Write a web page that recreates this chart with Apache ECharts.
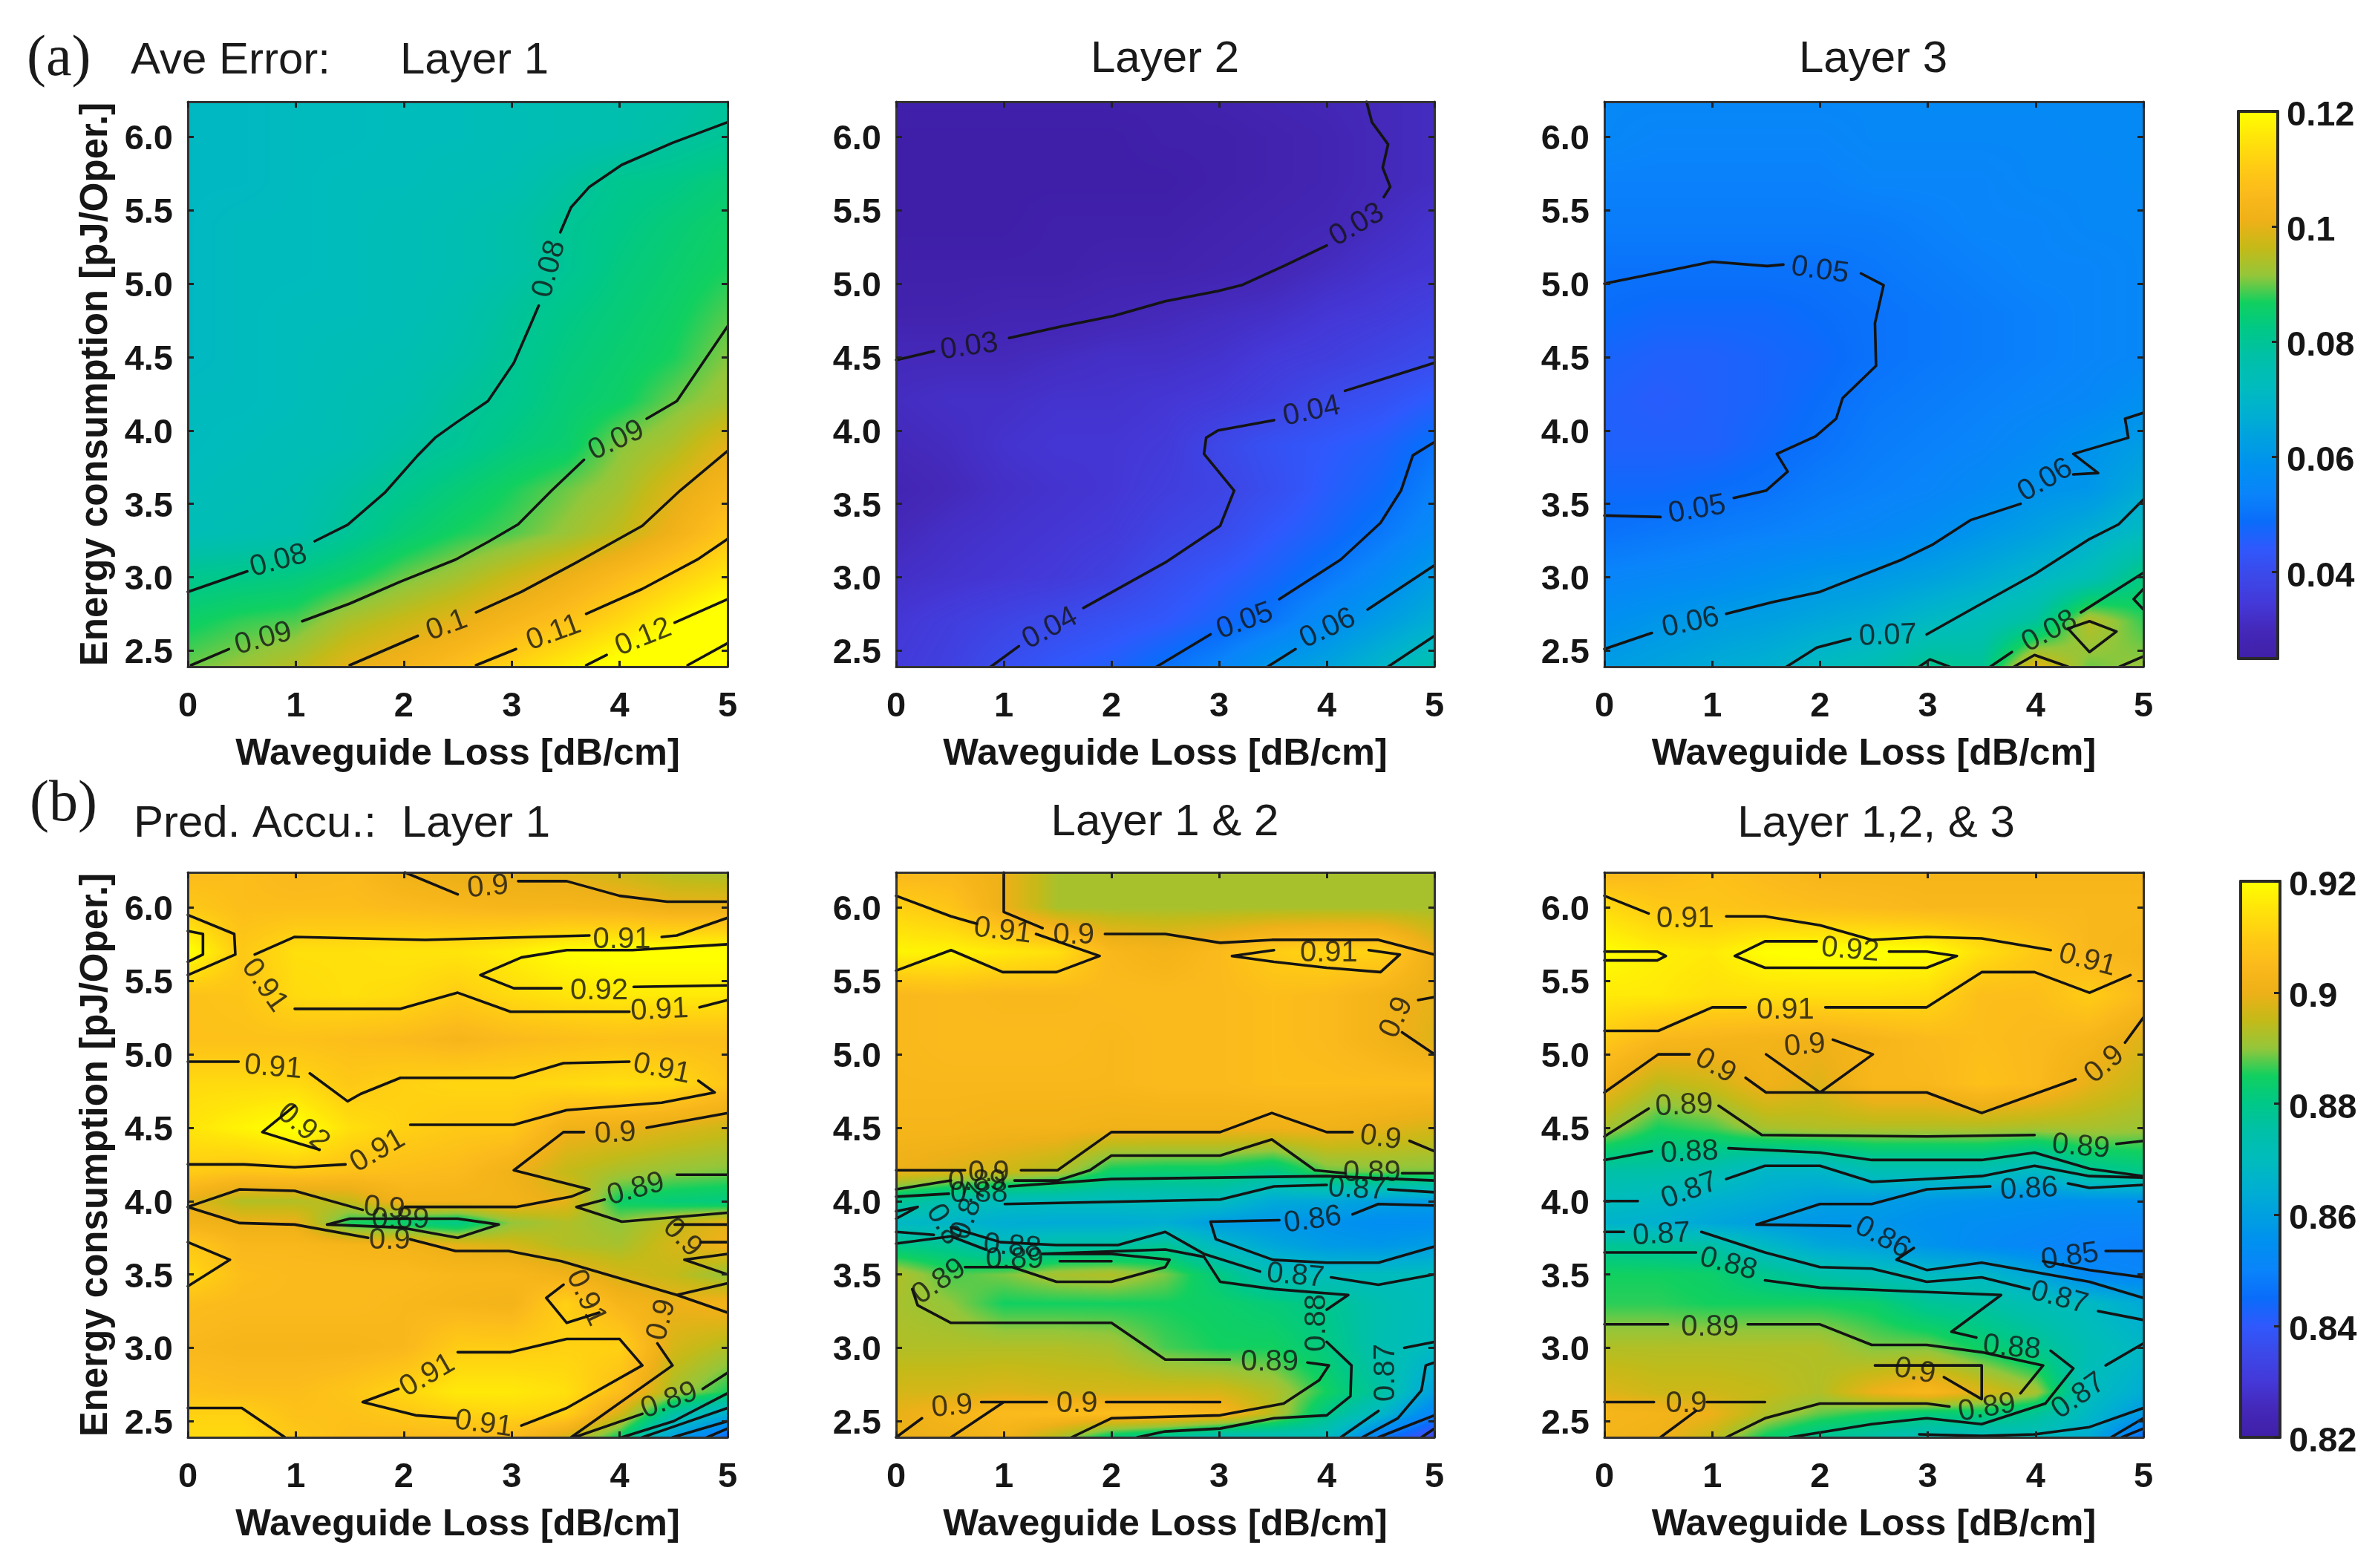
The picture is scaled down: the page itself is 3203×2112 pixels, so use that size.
<!DOCTYPE html>
<html><head><meta charset="utf-8"><style>html,body{margin:0;background:#fff}#c{width:3203px;height:2112px;filter:blur(0.7px)}</style>
<script src="https://cdn.jsdelivr.net/npm/echarts@6/dist/echarts.min.js"></script></head>
<body><div id="c"></div><script>
const xGrid=[0,.5,1,1.5,2,2.5,3,3.5,4,4.5,5];
const yRowsA=[6.24,6,5.7,5.4,5.1,4.8,4.5,4.2,3.9,3.6,3.3,3,2.7,2.39];
const yRowsB=[6.24,6,5.7,5.4,5.1,4.8,4.5,4.2,4,3.85,3.7,3.5,3.3,3,2.7,2.55,2.39];
const xTicks=[0,1,2,3,4,5];
const yTicks=[2.5,3,3.5,4,4.5,5,5.5,6];
const barTicksA=[.04,.06,.08,.1,.12];
const barTicksB=[.82,.84,.86,.88,.9,.92];
const rangeA=[.025,.12];
const rangeB=[.82,.92];
const colormap=['#3f1fa8','#4428b8','#4438d8','#3c48e8','#3058fc','#0a6cfa','#0a84fa','#0090f0','#00a0e0','#00b0d0','#00bcbc','#00c0a8','#00c888','#10d060','#94c63a','#c4ba18','#eeb018','#fbba1c','#ffcc14','#ffe40a','#ffff00'];

const valuesA1=[
[.071,.071,.072,.072,.073,.073,.074,.075,.076,.077,.079],
[.071,.071,.072,.072,.073,.073,.074,.075,.076,.078,.080],
[.071,.071,.072,.073,.073,.074,.075,.078,.081,.082,.084],
[.071,.072,.072,.073,.074,.075,.077,.080,.082,.084,.086],
[.071,.072,.072,.073,.074,.075,.077,.080,.083,.085,.087],
[.071,.072,.073,.073,.074,.076,.079,.082,.084,.086,.089],
[.071,.072,.073,.074,.075,.077,.080,.083,.085,.087,.091],
[.072,.072,.073,.075,.076,.079,.081,.084,.086,.090,.093],
[.072,.073,.074,.075,.078,.080,.083,.085,.091,.094,.100],
[.073,.074,.075,.078,.081,.084,.087,.090,.093,.099,.104],
[.074,.075,.076,.080,.084,.087,.089,.092,.096,.102,.109],
[.081,.082,.083,.086,.090,.093,.097,.101,.106,.111,.116],
[.086,.088,.089,.094,.097,.100,.104,.108,.113,.119,.124],
[.090,.092,.095,.100,.103,.107,.112,.117,.122,.127,.132]];
const valuesA2=[
[.026,.026,.026,.026,.026,.026,.027,.028,.029,.030,.031],
[.025,.025,.025,.025,.025,.026,.026,.027,.028,.030,.031],
[.025,.025,.025,.025,.025,.025,.026,.027,.028,.030,.031],
[.025,.025,.025,.026,.026,.026,.027,.028,.029,.031,.033],
[.026,.026,.026,.026,.027,.027,.028,.029,.031,.033,.034],
[.027,.027,.028,.028,.029,.030,.031,.032,.034,.035,.037],
[.030,.030,.030,.031,.032,.032,.033,.035,.036,.038,.040],
[.031,.032,.032,.033,.033,.034,.035,.037,.040,.042,.045],
[.030,.031,.033,.034,.034,.035,.039,.042,.044,.046,.050],
[.028,.030,.032,.033,.034,.036,.038,.041,.045,.048,.053],
[.030,.032,.033,.034,.035,.038,.040,.044,.047,.051,.056],
[.032,.033,.034,.035,.037,.041,.044,.047,.051,.056,.062],
[.034,.036,.038,.040,.042,.044,.047,.051,.057,.062,.067],
[.035,.037,.041,.044,.046,.050,.054,.061,.064,.070,.076]];
const valuesA3=[
[.055,.055,.055,.055,.055,.055,.056,.056,.056,.056,.056],
[.055,.054,.054,.054,.054,.055,.055,.055,.055,.056,.056],
[.053,.053,.053,.053,.053,.054,.054,.054,.055,.055,.056],
[.052,.052,.052,.052,.052,.052,.053,.054,.054,.055,.055],
[.050,.050,.050,.050,.050,.051,.052,.053,.054,.054,.055],
[.049,.048,.048,.048,.049,.050,.051,.052,.053,.054,.055],
[.047,.046,.046,.047,.048,.050,.051,.052,.053,.054,.055],
[.046,.045,.046,.047,.049,.051,.052,.053,.054,.055,.058],
[.046,.046,.046,.048,.050,.052,.053,.054,.056,.059,.062],
[.048,.048,.049,.050,.052,.053,.054,.056,.059,.060,.066],
[.050,.051,.052,.053,.054,.055,.057,.060,.063,.067,.072],
[.054,.055,.056,.058,.060,.061,.063,.066,.070,.074,.083],
[.058,.060,.062,.063,.065,.067,.071,.074,.079,.095,.088],
[.062,.064,.066,.068,.072,.075,.081,.080,.100,.090,.092]];
const valuesB1=[
[.905,.906,.904,.905,.901,.899,.899,.898,.896,.893,.892],
[.909,.906,.906,.906,.905,.904,.903,.903,.902,.900,.900],
[.921,.909,.914,.914,.915,.915,.917,.920,.921,.921,.921],
[.907,.908,.913,.914,.913,.910,.913,.915,.916,.916,.916],
[.907,.907,.907,.906,.905,.903,.905,.906,.907,.906,.906],
[.913,.913,.913,.909,.911,.912,.912,.913,.914,.913,.908],
[.915,.918,.921,.914,.911,.909,.909,.901,.900,.898,.896],
[.910,.908,.909,.907,.906,.905,.901,.895,.892,.890,.889],
[.899,.893,.893,.895,.902,.902,.902,.899,.884,.882,.881],
[.902,.900,.900,.885,.883,.880,.890,.893,.890,.895,.899],
[.909,.904,.904,.903,.902,.899,.897,.893,.892,.897,.901],
[.913,.906,.905,.905,.905,.904,.904,.901,.897,.895,.890],
[.906,.905,.905,.905,.904,.903,.902,.911,.903,.900,.902],
[.904,.903,.903,.903,.904,.910,.910,.911,.911,.897,.893],
[.907,.906,.906,.908,.912,.916,.916,.914,.906,.892,.885],
[.911,.911,.907,.907,.909,.911,.912,.911,.897,.876,.865],
[.913,.913,.909,.906,.905,.905,.905,.897,.884,.860,.844]];
const valuesB2=[
[.904,.904,.900,.892,.892,.892,.892,.892,.892,.892,.892],
[.911,.908,.900,.892,.892,.892,.892,.892,.892,.892,.892],
[.918,.918,.916,.914,.904,.902,.905,.910,.912,.911,.900],
[.904,.905,.904,.904,.905,.905,.905,.906,.905,.902,.899],
[.904,.905,.905,.905,.904,.905,.905,.906,.905,.902,.898],
[.904,.904,.904,.904,.904,.905,.905,.906,.906,.906,.906],
[.903,.903,.902,.902,.901,.901,.901,.901,.901,.899,.897],
[.900,.898,.896,.893,.884,.883,.883,.880,.888,.889,.889],
[.879,.873,.870,.870,.870,.870,.870,.863,.862,.860,.859],
[.868,.867,.864,.863,.863,.864,.859,.857,.856,.854,.854],
[.880,.878,.871,.875,.875,.878,.868,.862,.858,.857,.859],
[.893,.887,.889,.892,.893,.889,.881,.872,.870,.870,.870],
[.892,.890,.885,.885,.885,.885,.884,.882,.879,.873,.870],
[.893,.893,.893,.893,.892,.887,.885,.885,.881,.873,.869],
[.897,.897,.898,.897,.897,.897,.897,.893,.885,.876,.860],
[.899,.903,.905,.906,.906,.906,.904,.894,.880,.868,.850],
[.900,.900,.902,.893,.882,.877,.871,.871,.870,.848,.834]];
const valuesB3=[
[.904,.905,.907,.905,.903,.903,.903,.903,.903,.903,.903],
[.913,.909,.908,.907,.906,.905,.904,.904,.904,.904,.904],
[.920,.917,.916,.920,.921,.921,.920,.914,.909,.904,.903],
[.916,.916,.914,.914,.914,.914,.913,.906,.906,.910,.905],
[.909,.904,.903,.902,.901,.903,.905,.906,.905,.903,.898],
[.901,.894,.896,.901,.898,.904,.904,.907,.905,.899,.895],
[.892,.885,.887,.892,.893,.893,.893,.893,.892,.892,.891],
[.875,.875,.873,.867,.867,.872,.872,.872,.868,.878,.880],
[.870,.868,.865,.863,.860,.859,.857,.856,.855,.855,.855],
[.866,.865,.862,.859,.857,.857,.855,.854,.853,.851,.851],
[.878,.877,.875,.868,.862,.860,.856,.853,.851,.850,.849],
[.885,.885,.884,.879,.875,.872,.869,.868,.862,.852,.851],
[.886,.886,.885,.885,.885,.884,.878,.876,.872,.869,.863],
[.893,.893,.893,.893,.893,.889,.889,.884,.879,.872,.868],
[.898,.896,.896,.895,.893,.900,.904,.898,.892,.870,.864],
[.903,.902,.900,.893,.888,.885,.882,.883,.878,.868,.858],
[.902,.901,.895,.884,.878,.875,.871,.870,.870,.864,.845]];

// contour polylines: flat x,y lists in data units (waveguide loss, energy)
const contoursA1=[
[0,2.9,.55,3.04],
[1.175,3.245,1.48,3.357,1.83,3.58,2.13,3.83,2.29,3.95,2.48,4.05,2.78,4.2,3.02,4.46,3.18,4.73,3.25,4.85],
[3.45,5.35,3.55,5.52,3.72,5.66,4.02,5.81,4.49,5.96,5,6.1],
[.03,2.4,.38,2.51],
[1.06,2.7,1.5,2.82,1.97,2.97,2.48,3.12,2.78,3.24,3.06,3.36,3.37,3.59,3.67,3.8],
[4.25,4.08,4.53,4.2,4.77,4.46,5,4.71],
[1.5,2.4,2.13,2.6],
[2.67,2.76,3.09,2.9,3.6,3.1,4.21,3.35,4.56,3.59,5,3.86],
[2.67,2.4,3.04,2.51],
[3.69,2.75,4.21,2.92,4.72,3.12,5,3.26],
[3.69,2.4,3.88,2.47],
[4.51,2.69,5,2.85],
[4.63,2.4,5,2.55]];
const labelsA1=[[.84,3.11,'0.08',15],[3.35,5.1,'0.08',75],[.7,2.58,'0.09',15],[3.97,3.93,'0.09',25],[2.4,2.67,'0.1',20],[3.39,2.62,'0.11',20],[4.22,2.59,'0.12',22]];
const contoursA2=[
[0,4.48,.35,4.54],
[1.05,4.63,1.54,4.71,2.02,4.78,2.5,4.88,2.99,4.95,3.21,4.99,3.6,5.12,4,5.26],
[4.53,5.59,4.59,5.66,4.52,5.79,4.57,5.95,4.42,6.1,4.37,6.24],
[.88,2.39,1.14,2.53],
[1.74,2.79,2.5,3.1,3.01,3.35,3.14,3.59,2.86,3.84,2.88,3.95,2.99,4,3.51,4.07],
[4.17,4.27,4.48,4.34,5,4.46],
[2.42,2.39,2.92,2.61],
[3.56,2.85,4.13,3.12,4.5,3.37,4.69,3.59,4.8,3.83,5,3.92],
[3.45,2.39,3.71,2.51],
[4.38,2.78,5,3.08],
[4.57,2.39,5,2.6]];
const labelsA2=[[.68,4.57,'0.03',8],[4.28,5.4,'0.03',30],[1.43,2.65,'0.04',28],[3.86,4.13,'0.04',12],[3.24,2.7,'0.05',20],[4.01,2.65,'0.06',25]];
const contoursA3=[
[0,5,.54,5.08,1,5.15,1.51,5.12,1.66,5.13],
[2.38,5.07,2.59,4.99,2.51,4.73,2.52,4.44,2.21,4.22,2.15,4.08,1.96,3.96,1.6,3.84,1.7,3.72,1.5,3.59,1.2,3.54],
[.52,3.41,0,3.42],
[0,2.51,.44,2.62],
[1.13,2.75,1.56,2.83,2,2.9,2.76,3.12,3.04,3.22,3.4,3.39,3.86,3.5],
[4.35,3.7,4.58,3.71,4.35,3.84,4.86,3.95,4.83,4.08,5,4.12],
[1.69,2.39,1.97,2.52,2.28,2.58],
[2.99,2.61,3.45,2.8,3.99,3.02,4.5,3.26,4.77,3.36,5,3.53],
[3.58,2.39,3.78,2.49],
[4.42,2.76,5,3.03],
[2.92,2.39,3.02,2.44,3.2,2.39],
[3.8,2.39,3.99,2.47,4.3,2.39],
[4.3,2.65,4.5,2.7,4.75,2.63,4.5,2.49,4.3,2.65],
[5,2.92,4.91,2.85,5,2.78],
[4.78,2.39,5,2.46]];
const labelsA3=[[2,5.09,'0.05',-8],[.86,3.46,'0.05',10],[.8,2.69,'0.06',12],[4.09,3.66,'0.06',30],[2.63,2.6,'0.07',2],[4.13,2.63,'0.08',28]];
const contoursB1=[
[2.01,6.24,2.5,6.09],
[3.06,6.18,3.51,6.18,4,6.08,4.44,6.04,5,6.04],
[0,5.95,.43,5.82,.44,5.68,0,5.54],
[0,5.84,.14,5.82,.14,5.68,0,5.63],
[.62,5.68,.99,5.8,2.2,5.78,3.72,5.81],
[4.39,5.8,4.53,5.81,5,5.93],
[.99,5.31,1.97,5.31,2.5,5.42,2.99,5.29,4.09,5.29],
[4.74,5.32,5,5.37],
[5,5.75,4.12,5.71,3.51,5.71,3.09,5.66,2.71,5.54,3.02,5.45,3.46,5.45],
[4.13,5.46,5,5.47],
[0,4.95,.47,4.95],
[1.13,4.87,1.48,4.68,1.6,4.73,1.97,4.84,3.02,4.84,3.48,4.94,4.09,4.95],
[4.73,4.82,4.88,4.74,4.39,4.67,3.51,4.62,3.02,4.52,2.06,4.52],
[1.46,4.25,.99,4.23,.52,4.25,0,4.25],
[.99,4.65,.69,4.47,1.04,4.39,1.22,4.35],
[5,4.6,4.25,4.5],
[3.67,4.47,3.48,4.47,3.02,4.21,3.72,4.08,3.55,4.03,3.04,3.96,2.01,3.96],
[0,3.96,.48,4.08,.99,4.07,1.62,3.94],
[0,3.96,.48,3.85,.99,3.84,1.67,3.75],
[2.06,3.74,2.48,3.66,2.97,3.66,3.46,3.59,4.53,3.36,5,3.24],
[1.29,3.84,1.5,3.88,2.5,3.88,2.88,3.84,2.5,3.75,1.97,3.82,1.29,3.84],
[5,4.18,4.53,4.18],
[3.86,4.01,3.6,3.96,4.02,3.86,5,3.92],
[5,3.84,4.51,3.84],
[4.75,3.72,5,3.72],
[5,3.64,4.6,3.6,5,3.5],
[4.53,3.36,5,3.44],
[0,3.72,.39,3.6,0,3.42],
[3.48,3.43,3.32,3.34,3.51,3.17,3.81,3.24],
[2.5,2.97,2.99,2.97,3.51,3.06,4,3.06,4.21,2.88,3.51,2.59,3.09,2.47],
[2.48,2.52,2.11,2.54,1.62,2.63,1.95,2.72],
[4.35,3.03,4.49,2.88,3.55,2.39],
[0,2.59,.5,2.59,.9,2.39],
[5,2.83,4.77,2.72],
[4.21,2.55,3.58,2.39],
[5,2.69,4.5,2.5,4.02,2.39],
[5,2.59,4.49,2.46,4.21,2.39],
[5,2.5,4.49,2.39],
[5,2.45,4.81,2.39]];
const labelsB1=[[2.78,6.14,'0.9',5],[4.02,5.78,'0.91',0],[4.37,5.3,'0.91',3],[.71,5.47,'0.91',-55],[3.81,5.43,'0.92',0],[.79,4.91,'0.91',-5],[4.39,4.9,'0.91',-12],[1.76,4.34,'0.91',30],[1.07,4.5,'0.92',-40],[3.96,4.46,'0.9',3],[1.82,3.95,'0.9',-5],[1.87,3.73,'0.9',0],[1.97,3.87,'0.89',0],[4.15,4.08,'0.89',15],[4.58,3.75,'0.9',-45],[3.69,3.34,'0.91',-65],[2.74,2.48,'0.91',-8],[2.22,2.81,'0.91',30],[4.39,3.19,'0.9',75],[4.46,2.64,'0.89',20]];
const contoursB2=[
[0,6.08,.51,5.94,.75,5.89],
[1.3,5.82,1.89,5.67,1.49,5.56,.99,5.56,.51,5.71,0,5.57],
[1,6.24,1,5.97,1.36,5.86],
[1.94,5.82,2.5,5.82,3.01,5.76,3.49,5.78,4.48,5.78,5,5.68],
[3.12,5.67,3.51,5.71],
[4.39,5.71,4.68,5.68,4.5,5.56,4,5.59,3.51,5.63,3.12,5.67],
[5,5.39,4.85,5.37],
[4.7,5.15,5,5],
[0,4.21,.64,4.21],
[1.16,4.21,1.5,4.21,2,4.47,3.01,4.47,3.49,4.6,4,4.47,4.24,4.47],
[4.77,4.41,5,4.34],
[0,4.08,.51,4.14],
[1.1,4.14,1.5,4.14,1.8,4.21,2,4.31,3.01,4.31,3.49,4.42,3.89,4.21,4.17,4.19],
[4.7,4.19,5,4.19],
[0,4.03,.49,4.05],
[1.05,4.1,2,4.15,4,4.17,5,4.14],
[0,3.93,.2,3.96,0,3.88],
[1.01,3.98,3.01,4.01,3.51,4.1,4,4.11],
[4.57,4.08,5,4.06],
[3.56,3.87,2.92,3.86,2.97,3.74,3.5,3.6,4,3.58,4.48,3.58,5,3.69],
[4.24,3.91,4.48,3.98,5,3.97],
[0,3.79,.35,3.77],
[.51,3.82,.97,3.72,1.49,3.7,2.06,3.7,2.5,3.79,2.86,3.64,3.38,3.52],
[4.04,3.48,4.48,3.43,5,3.5],
[0,3.71,.51,3.76,.83,3.67],
[1.36,3.64,2.5,3.67,2.86,3.62,3.01,3.45,3.51,3.4,4.2,3.36,4,3.26],
[4,3.04,4.23,2.88,4.22,2.67,4,2.54,3.51,2.52,3.01,2.45,2.5,2.43,2.24,2.39],
[.64,3.55,1.08,3.55,1.49,3.45,2,3.45,2.5,3.55,2.54,3.6,2,3.64,1.4,3.64],
[1.52,3.59,2,3.59],
[.15,3.4,.2,3.29,.51,3.17,2,3.17,2.5,2.92,3.1,2.92],
[3.82,2.9,4.02,2.88,3.93,2.78,3.6,2.62,3.01,2.54,2,2.52,1.63,2.39],
[0,2.39,.24,2.52],
[.51,2.39,1,2.63],
[.79,2.63,1.4,2.63],
[1.95,2.63,3.01,2.63],
[5,3.04,4.72,3],
[4.48,2.57,4.13,2.39],
[5,2.9,4.92,2.88,4.88,2.71,4.66,2.52,4.33,2.39],
[5,2.54,4.79,2.48,4.48,2.39],
[5,2.45,4.88,2.39]];
const labelsB2=[[.99,5.84,'0.91',-7],[1.65,5.81,'0.9',0],[4.02,5.69,'0.91',0],[4.65,5.25,'0.9',65],[.86,4.19,'0.9',0],[.75,4.13,'0.89',0],[.77,4.05,'0.88',0],[.68,3.93,'0.87',70],[.44,3.84,'0.8',-60],[4.5,4.43,'0.9',-8],[4.42,4.19,'0.89',0],[4.28,4.08,'0.87',-3],[3.87,3.87,'0.86',8],[3.71,3.49,'0.87',-5],[1.08,3.69,'0.88',-5],[1.1,3.6,'0.89',0],[.4,3.45,'0.89',35],[3.47,2.9,'0.89',0],[3.91,3.17,'0.88',90],[.52,2.6,'0.9',5],[1.68,2.62,'0.9',0],[4.55,2.83,'0.87',90]];
const contoursB3=[
[0,6.08,.41,5.96],
[1.13,5.94,1.49,5.94,2,5.88,2.48,5.78,2.99,5.8,3.5,5.79,4.14,5.71],
[4.88,5.54,4.5,5.42,3.99,5.56,3.5,5.56,2.99,5.32,2.05,5.32],
[1.31,5.32,1,5.32,.5,5.16,0,5.16],
[0,5.7,.49,5.7,.57,5.67,.49,5.64,0,5.64],
[1.97,5.77,1.49,5.77,1.21,5.67,1.49,5.59,2.99,5.59,3.27,5.67,2.99,5.7,2.64,5.7],
[0,4.74,.5,5,.79,5],
[1.31,4.84,1.5,4.74,2.99,4.74,3.5,4.6,4.37,4.83],
[4.83,5.08,5,5.25],
[1.5,5,2,4.74,2.49,5,2.12,5.1],
[0,4.44,.41,4.63],
[1.06,4.65,1.46,4.45,2.99,4.44,3.99,4.45],
[4.75,4.39,5,4.41],
[0,4.28,.44,4.34],
[1.15,4.36,2,4.33,2.48,4.28,3.5,4.28,3.99,4.33,4.5,4.22,5,4.17],
[0,4,.31,4],
[1.13,4.15,1.49,4.24,2,4.24,2.48,4.13,3.5,4.17,3.99,4.24,4.5,4.17,5,4.16],
[2.28,3.83,1.41,3.84,2,3.98,2.48,3.98,2.99,4.08,3.58,4.1],
[4.3,4.12,4.5,4.09,5,4.11],
[2.87,3.68,2.71,3.6,2.99,3.53,3.5,3.58,4.5,3.45,5,3.34],
[5,3.66,4.65,3.66],
[4.07,3.59,4.5,3.53,5,3.48],
[0,3.79,.18,3.79],
[.9,3.79,1.49,3.65,2,3.55,2.48,3.54,2.99,3.45,3.5,3.48,3.94,3.4],
[4.58,3.25,5,3.19],
[0,3.65,.85,3.65],
[1.49,3.46,2,3.41,2.99,3.38,3.68,3.36,3.22,3.11,3.45,3.07],
[4.14,2.98,4.35,2.86,4.09,2.62,3.5,2.48,2.99,2.52,2.48,2.48,1.72,2.39],
[0,3.16,.59,3.16],
[1.33,3.16,2,3.16,2.48,3.02,2.99,3.02,3.5,2.97,4.07,2.88,3.86,2.69],
[3.2,2.6,2.99,2.62,2,2.62,1.49,2.52,1.13,2.39],
[2.51,2.88,3.5,2.88,3.5,2.65,3.15,2.8],
[0,2.63,.46,2.63],
[.95,2.63,1.49,2.63],
[.52,2.39,.85,2.57],
[5,3.03,4.65,2.88],
[2.92,2.41,3.5,2.4,3.99,2.41,4.5,2.46,5,2.59],
[5,2.52,4.7,2.39],
[5,2.45,4.8,2.39]];
const labelsB3=[[.75,5.92,'0.91',0],[4.48,5.64,'0.91',-15],[1.68,5.3,'0.91',0],[2.28,5.71,'0.92',-5],[1.03,4.92,'0.9',-30],[4.64,4.93,'0.9',40],[1.86,5.06,'0.9',5],[.74,4.65,'0.89',3],[4.42,4.37,'0.89',-5],[.79,4.33,'0.88',3],[.79,4.07,'0.87',20],[3.94,4.08,'0.86',3],[2.58,3.75,'0.86',-28],[4.32,3.62,'0.85',8],[.53,3.77,'0.87',3],[4.22,3.34,'0.87',-15],[1.15,3.57,'0.88',-15],[3.78,3,'0.88',-5],[.98,3.14,'0.89',0],[3.55,2.59,'0.89',10],[2.88,2.84,'0.9',-10],[.76,2.62,'0.9',0],[4.4,2.67,'0.87',35]];

const columns=[[253,727],[1207,725],[2161,726]];
const rowTops=[137,1175];
const panelH=761;
const panels=[
 {v:valuesA1,rows:yRowsA,c:contoursA1,l:labelsA1,r:rangeA,col:0,row:0},
 {v:valuesA2,rows:yRowsA,c:contoursA2,l:labelsA2,r:rangeA,col:1,row:0},
 {v:valuesA3,rows:yRowsA,c:contoursA3,l:labelsA3,r:rangeA,col:2,row:0},
 {v:valuesB1,rows:yRowsB,c:contoursB1,l:labelsB1,r:rangeB,col:0,row:1},
 {v:valuesB2,rows:yRowsB,c:contoursB2,l:labelsB2,r:rangeB,col:1,row:1},
 {v:valuesB3,rows:yRowsB,c:contoursB3,l:labelsB3,r:rangeB,col:2,row:1}];

const rgb=colormap.map(h=>[1,3,5].map(i=>parseInt(h.substr(i,2),16)));
function paint(t,px,i){
  t=Math.max(0,Math.min(1,t))*(rgb.length-1);
  const k=Math.min(rgb.length-2,Math.floor(t)),f=t-k,a=rgb[k],b=rgb[k+1];
  px[i]=a[0]+(b[0]-a[0])*f;px[i+1]=a[1]+(b[1]-a[1])*f;px[i+2]=a[2]+(b[2]-a[2])*f;px[i+3]=255;
}
function cellImage(w,h,q,r){
  const cv=document.createElement('canvas');cv.width=w;cv.height=h;
  const ctx=cv.getContext('2d'),img=ctx.createImageData(w,h);
  for(let y=0;y<h;y++){const fy=(y+.5)/h;
    for(let x=0;x<w;x++){const fx=(x+.5)/w;
      const v=(q[0]*(1-fx)+q[1]*fx)*(1-fy)+(q[2]*(1-fx)+q[3]*fx)*fy;
      paint((v-r[0])/(r[1]-r[0]),img.data,(y*w+x)*4);}}
  ctx.putImageData(img,0,0);return cv;
}
const cellRender=r=>(params,api)=>{
  const a=api.coord([api.value(0),api.value(3)]),b=api.coord([api.value(2),api.value(1)]);
  const x=Math.round(a[0]),y=Math.round(a[1]),w=Math.round(b[0])-x,h=Math.round(b[1])-y;
  return {type:'image',style:{image:cellImage(w,h,[api.value(4),api.value(5),api.value(6),api.value(7)],r),x,y,width:w,height:h},silent:true};
};
const font='Liberation Sans';
const ink='#161616';
const grid=[],xAxis=[],yAxis=[],series=[];
panels.forEach((p,i)=>{
  const [left,width]=columns[p.col],top=rowTops[p.row];
  grid.push({left,top,width,height:panelH,show:false});
  xAxis.push({gridIndex:i,type:'value',min:0,max:5,interval:1,z:6,nameMoveOverlap:false,
    name:'Waveguide Loss [dB/cm]',nameLocation:'middle',nameGap:93,nameTextStyle:{fontFamily:font,fontWeight:'bold',fontSize:50.5,color:ink},
    axisLine:{show:true,onZero:false,lineStyle:{color:'#333',width:3}},axisTick:{inside:true,length:8,lineStyle:{color:'#222',width:3}},
    axisLabel:{margin:31,fontFamily:font,fontWeight:'bold',fontSize:47,color:ink,showMinLabel:true,showMaxLabel:true,hideOverlap:false},splitLine:{show:false}});
  yAxis.push({gridIndex:i,type:'value',min:2.39,max:6.24,z:6,nameMoveOverlap:false,
    name:p.col===0?'Energy consumption [pJ/Oper.]':'',nameLocation:'middle',nameRotate:90,nameGap:98,nameTextStyle:{fontFamily:font,fontWeight:'bold',fontSize:51,color:ink},
    axisLine:{show:true,onZero:false,lineStyle:{color:'#333',width:3}},axisTick:{inside:true,length:8,customValues:yTicks,lineStyle:{color:'#222',width:3}},
    axisLabel:{margin:20,verticalAlign:'top',lineHeight:8,fontFamily:font,fontWeight:'bold',fontSize:47,color:ink,customValues:yTicks,formatter:v=>v.toFixed(1)},splitLine:{show:false}});
  const cells=[];
  for(let r=0;r<p.rows.length-1;r++)for(let c=0;c<xGrid.length-1;c++)
    cells.push([xGrid[c],p.rows[r+1],xGrid[c+1],p.rows[r],p.v[r][c],p.v[r][c+1],p.v[r+1][c],p.v[r+1][c+1]]);
  series.push({type:'custom',name:'surface'+i,xAxisIndex:i,yAxisIndex:i,renderItem:cellRender(p.r),data:cells,encode:{x:[0,2],y:[1,3]},clip:false,z:1,animation:false,silent:true});
  const lineData=[];
  p.c.forEach(f=>{for(let k=0;k<f.length;k+=2)lineData.push([f[k],f[k+1]]);lineData.push(['-','-']);});
  series.push({type:'line',xAxisIndex:i,yAxisIndex:i,data:lineData,showSymbol:false,symbol:'none',connectNulls:false,smooth:false,clip:true,z:3,animation:false,silent:true,
    lineStyle:{color:'#141414',width:3.6,cap:'round',join:'round'}});
  series.push({type:'scatter',xAxisIndex:i,yAxisIndex:i,symbolSize:0,z:4,animation:false,silent:true,clip:false,
    data:p.l.map(a=>({value:[a[0],a[1]],label:{formatter:a[2],rotate:a[3]}})),
    label:{show:true,position:'inside',fontFamily:font,fontSize:40,color:'#141414'},labelLayout:{hideOverlap:false}});
});
// secondary frame sides for each panel
panels.forEach((p,i)=>{
  const ln={show:true,onZero:false,lineStyle:{color:'#333',width:3}};
  xAxis.push({gridIndex:i,type:'value',position:'top',min:0,max:5,interval:1,z:6,axisLine:ln,axisTick:{inside:true,length:8,lineStyle:{color:'#222',width:3}},axisLabel:{show:false},splitLine:{show:false}});
  yAxis.push({gridIndex:i,type:'value',position:'right',min:2.39,max:6.24,z:6,axisLine:ln,axisTick:{inside:true,length:8,customValues:yTicks,lineStyle:{color:'#222',width:3}},axisLabel:{show:false},splitLine:{show:false}});
});
// colour bars
const bars=[{r:rangeA,t:barTicksA,left:3015,top:150,h:737},{r:rangeB,t:barTicksB,left:3018,top:1187,h:749}];
const visualMap=[];
bars.forEach(b=>{
  const gi=grid.length;
  grid.push({left:b.left,top:b.top,width:53,height:b.h,show:false});
  const ln={show:true,onZero:false,lineStyle:{color:'#2a2a2a',width:4}};
  xAxis.push({gridIndex:gi,type:'value',min:0,max:1,z:6,axisLine:ln,axisTick:{show:false},axisLabel:{show:false},splitLine:{show:false}});
  xAxis.push({gridIndex:gi,type:'value',position:'top',min:0,max:1,z:6,axisLine:ln,axisTick:{show:false},axisLabel:{show:false},splitLine:{show:false}});
  yAxis.push({gridIndex:gi,type:'value',position:'left',min:b.r[0],max:b.r[1],z:6,axisLine:ln,axisTick:{show:false},axisLabel:{show:false},splitLine:{show:false}});
  yAxis.push({gridIndex:gi,type:'value',position:'right',min:b.r[0],max:b.r[1],z:6,axisLine:ln,
    axisTick:{inside:true,length:8,customValues:b.t,lineStyle:{color:'#222',width:3}},
    axisLabel:{margin:12,verticalAlign:'top',lineHeight:12,fontFamily:font,fontWeight:'bold',fontSize:47,color:ink,customValues:b.t},splitLine:{show:false}});
  visualMap.push({type:'continuous',show:true,min:b.r[0],max:b.r[1],left:b.left,top:b.top,itemWidth:53,itemHeight:b.h,padding:0,seriesIndex:[],calculable:false,showLabel:false,text:null,z:2,inRange:{color:colormap}});
});
const T=(text,left,top,size,family,align)=>({text,left,top,textAlign:align||'left',padding:0,textStyle:{fontFamily:family||font,fontWeight:'normal',fontSize:size||60,color:'#1a1a1a'}});
const S='Liberation Serif';
const title=[
 T('(a)',36,42,78,S),T('Ave Error:',176,52),T('Layer 1',539,52),T('Layer 2',1569,50,60,font,'center'),T('Layer 3',2523,50,60,font,'center'),
 T('(b)',40,1046,78,S),T('Pred. Accu.:',180,1080),T('Layer 1',541,1080),T('Layer 1 & 2',1569,1078,60,font,'center'),T('Layer 1,2, & 3',2527,1080,60,font,'center')];
const chart=echarts.init(document.getElementById('c'),null,{renderer:'canvas'});
chart.setOption({backgroundColor:'#fff',animation:false,title,grid,xAxis,yAxis,visualMap,series});
</script></body></html>
